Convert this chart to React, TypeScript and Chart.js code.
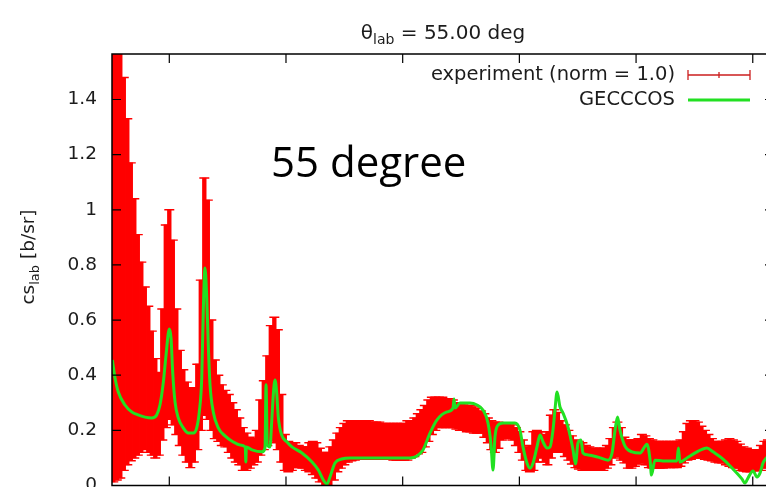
import React, { useEffect, useRef } from "react";
import { Chart, registerables } from "chart.js";

Chart.register(...registerables);
Chart.defaults.font.family = '"DejaVu Sans", sans-serif';

// ---- axis ranges / ticks ----
const X_MIN = 1.509;
const X_MAX = 7.182;
const Y_MIN = 0;
const Y_MAX = 1.565;
const xTickValues = [2, 3, 4, 5, 6, 7];
const yTickStep = 0.2;

// ---- experiment (error bars: lower / upper end) ----
const expEnergy = [
  1.52, 1.55, 1.58, 1.61, 1.64, 1.67, 1.70, 1.73, 1.76, 1.79,
  1.82, 1.85, 1.88, 1.91, 1.94, 1.97, 2.00, 2.03, 2.06, 2.09,
  2.12, 2.15, 2.18, 2.21, 2.24, 2.27, 2.30, 2.33, 2.36, 2.39,
  2.42, 2.45, 2.48, 2.51, 2.54, 2.57, 2.60, 2.63, 2.66, 2.69,
  2.72, 2.75, 2.78, 2.81, 2.84, 2.87, 2.90, 2.93, 2.96, 2.99,
  3.02, 3.05, 3.08, 3.11, 3.14, 3.17, 3.20, 3.23, 3.26, 3.29,
  3.32, 3.35, 3.38, 3.41, 3.44, 3.47, 3.50, 3.53, 3.56, 3.59,
  3.62, 3.65, 3.68, 3.71, 3.74, 3.77, 3.80, 3.83, 3.86, 3.89,
  3.92, 3.95, 3.98, 4.01, 4.04, 4.07, 4.10, 4.13, 4.16, 4.19,
  4.22, 4.25, 4.28, 4.31, 4.34, 4.37, 4.40, 4.43, 4.46, 4.49,
  4.52, 4.55, 4.58, 4.61, 4.64, 4.67, 4.70, 4.73, 4.76, 4.79,
  4.82, 4.85, 4.88, 4.91, 4.94, 4.97, 5.00, 5.03, 5.06, 5.09,
  5.12, 5.15, 5.18, 5.21, 5.24, 5.27, 5.30, 5.33, 5.36, 5.39,
  5.42, 5.45, 5.48, 5.51, 5.54, 5.57, 5.60, 5.63, 5.66, 5.69,
  5.72, 5.75, 5.78, 5.81, 5.84, 5.87, 5.90, 5.93, 5.96, 5.99,
  6.02, 6.05, 6.08, 6.11, 6.14, 6.17, 6.20, 6.23, 6.26, 6.29,
  6.32, 6.35, 6.38, 6.41, 6.44, 6.47, 6.50, 6.53, 6.56, 6.59,
  6.62, 6.65, 6.68, 6.71, 6.74, 6.77, 6.80, 6.83, 6.86, 6.89,
  6.92, 6.95, 6.98, 7.01, 7.04, 7.07, 7.10, 7.13, 7.16,
];

const expHigh = [
  1.70, 1.70, 1.65, 1.48, 1.33, 1.17, 1.04, 0.91, 0.81, 0.72,
  0.65, 0.56, 0.46, 0.41, 0.64, 0.945, 1.00, 0.89, 0.64, 0.49,
  0.42, 0.375, 0.355, 0.355, 0.44, 0.745, 1.115, 1.035, 0.60, 0.455,
  0.40, 0.365, 0.345, 0.33, 0.30, 0.275, 0.245, 0.21, 0.19, 0.175,
  0.17, 0.20, 0.31, 0.38, 0.47, 0.58, 0.61, 0.565, 0.33, 0.185,
  0.16, 0.155, 0.155, 0.145, 0.14, 0.14, 0.155, 0.16, 0.155, 0.135,
  0.12, 0.12, 0.14, 0.165, 0.19, 0.21, 0.225, 0.235, 0.235, 0.235,
  0.235, 0.235, 0.235, 0.235, 0.23, 0.23, 0.23, 0.225, 0.225, 0.225,
  0.225, 0.225, 0.225, 0.225, 0.235, 0.235, 0.245, 0.26, 0.275, 0.29,
  0.31, 0.32, 0.32, 0.32, 0.32, 0.315, 0.315, 0.31, 0.30, 0.30,
  0.295, 0.29, 0.29, 0.285, 0.28, 0.27, 0.26, 0.245, 0.235, 0.23,
  0.23, 0.225, 0.225, 0.225, 0.22, 0.21, 0.195, 0.165, 0.14, 0.145,
  0.195, 0.20, 0.195, 0.185, 0.195, 0.255, 0.275, 0.265, 0.235, 0.22,
  0.20, 0.18, 0.165, 0.16, 0.155, 0.145, 0.14, 0.135, 0.135, 0.135,
  0.135, 0.145, 0.17, 0.21, 0.23, 0.21, 0.175, 0.165, 0.165, 0.165,
  0.17, 0.185, 0.18, 0.17, 0.165, 0.16, 0.16, 0.16, 0.16, 0.16,
  0.16, 0.16, 0.165, 0.195, 0.225, 0.235, 0.235, 0.23, 0.215, 0.20,
  0.185, 0.17, 0.16, 0.16, 0.16, 0.165, 0.17, 0.165, 0.16, 0.15,
  0.14, 0.135, 0.13, 0.13, 0.13, 0.145, 0.16, 0.165, 0.165,
];

const expLow = [
  0.013, 0.02, 0.027, 0.055, 0.075, 0.09, 0.10, 0.11, 0.12, 0.13,
  0.12, 0.11, 0.10, 0.11, 0.165, 0.21, 0.24, 0.22, 0.185, 0.145,
  0.11, 0.085, 0.065, 0.085, 0.13, 0.20, 0.255, 0.24, 0.20, 0.17,
  0.16, 0.145, 0.14, 0.12, 0.10, 0.085, 0.075, 0.055, 0.055, 0.063,
  0.075, 0.085, 0.11, 0.13, 0.145, 0.165, 0.155, 0.13, 0.085, 0.055,
  0.05, 0.055, 0.065, 0.065, 0.063, 0.055, 0.05, 0.04, 0.027, 0.013,
  -0.01, -0.02, -0.01, 0.02, 0.05, 0.063, 0.075, 0.085, 0.09, 0.092,
  0.095, 0.10, 0.095, 0.095, 0.095, 0.095, 0.095, 0.095, 0.095, 0.095,
  0.092, 0.092, 0.092, 0.092, 0.092, 0.10, 0.105, 0.115, 0.12, 0.14,
  0.16, 0.185, 0.20, 0.21, 0.21, 0.21, 0.21, 0.21, 0.205, 0.20,
  0.20, 0.195, 0.195, 0.19, 0.19, 0.19, 0.175, 0.155, 0.13, 0.12,
  0.135, 0.165, 0.175, 0.17, 0.165, 0.145, 0.12, 0.092, 0.055, 0.05,
  0.055, 0.085, 0.10, 0.085, 0.075, 0.10, 0.12, 0.12, 0.12, 0.105,
  0.092, 0.078, 0.065, 0.06, 0.055, 0.055, 0.055, 0.055, 0.055, 0.055,
  0.055, 0.063, 0.075, 0.10, 0.105, 0.092, 0.082, 0.063, 0.063, 0.07,
  0.078, 0.082, 0.075, 0.065, 0.063, 0.063, 0.063, 0.063, 0.065, 0.065,
  0.065, 0.065, 0.07, 0.082, 0.092, 0.095, 0.10, 0.10, 0.10, 0.095,
  0.092, 0.09, 0.085, 0.082, 0.082, 0.075, 0.07, 0.065, 0.063, 0.055,
  0.052, 0.05, 0.05, 0.052, 0.055, 0.055, 0.063, 0.075, 0.075,
];

// ---- GECCCOS calculation ----
const gecX = [
  1.512, 1.535, 1.563, 1.620, 1.678, 1.732, 1.792, 1.849, 1.892, 1.920,
  1.949, 1.972, 2.000, 2.015, 2.029, 2.049, 2.077, 2.120, 2.163, 2.206,
  2.235, 2.257, 2.278, 2.291, 2.306, 2.320, 2.334, 2.349, 2.377, 2.420,
  2.477, 2.548, 2.606, 2.651, 2.656, 2.660, 2.709, 2.794, 2.820, 2.829,
  2.840, 2.863, 2.877, 2.891, 2.906, 2.920, 2.934, 2.963, 3.009, 3.051,
  3.137, 3.223, 3.277, 3.320, 3.351, 3.377, 3.420, 3.477, 3.548, 3.634,
  3.917, 4.063, 4.123, 4.174, 4.234, 4.294, 4.380, 4.431, 4.440, 4.448,
  4.491, 4.577, 4.637, 4.688, 4.731, 4.757, 4.774, 4.791, 4.817, 4.860,
  4.962, 5.005, 5.031, 5.065, 5.091, 5.117, 5.151, 5.177, 5.203, 5.237,
  5.263, 5.288, 5.305, 5.323, 5.348, 5.374, 5.417, 5.460, 5.481, 5.502,
  5.528, 5.545, 5.588, 5.674, 5.760, 5.794, 5.820, 5.841, 5.862, 5.905,
  5.965, 6.034, 6.094, 6.120, 6.132, 6.162, 6.230, 6.350, 6.363, 6.376,
  6.436, 6.522, 6.607, 6.659, 6.745, 6.830, 6.907, 6.933, 6.959, 7.002,
  7.036, 7.062, 7.088, 7.122, 7.182,
];

const gecY = [
  0.455, 0.390, 0.339, 0.292, 0.267, 0.256, 0.248, 0.245, 0.256, 0.292,
  0.375, 0.473, 0.568, 0.535, 0.412, 0.303, 0.245, 0.209, 0.190, 0.190,
  0.209, 0.267, 0.390, 0.629, 0.789, 0.691, 0.510, 0.365, 0.267, 0.209,
  0.180, 0.158, 0.147, 0.140, 0.085, 0.140, 0.129, 0.122, 0.136, 0.365,
  0.147, 0.140, 0.227, 0.328, 0.383, 0.339, 0.248, 0.183, 0.158, 0.140,
  0.118, 0.085, 0.056, 0.020, 0.005, 0.031, 0.082, 0.096, 0.100, 0.100,
  0.100, 0.100, 0.107, 0.129, 0.190, 0.238, 0.267, 0.281, 0.314, 0.281,
  0.299, 0.299, 0.292, 0.274, 0.227, 0.147, 0.056, 0.176, 0.219, 0.227,
  0.227, 0.201, 0.140, 0.082, 0.063, 0.082, 0.140, 0.183, 0.158, 0.136,
  0.140, 0.201, 0.274, 0.339, 0.285, 0.263, 0.212, 0.129, 0.078, 0.154,
  0.165, 0.118, 0.111, 0.103, 0.092, 0.118, 0.201, 0.248, 0.201, 0.143,
  0.122, 0.118, 0.150, 0.092, 0.038, 0.092, 0.089, 0.089, 0.136, 0.085,
  0.100, 0.122, 0.136, 0.122, 0.096, 0.060, 0.024, 0.009, 0.027, 0.053,
  0.031, 0.045, 0.082, 0.103, 0.129,
];

// ---- texts ----
const titleParts = [
  { t: "θ", size: 20, dy: 0 },
  { t: "lab", size: 14, dy: 5 },
  { t: " = 55.00 deg", size: 20, dy: 0 },
];
const yTitleParts = [
  { t: "cs", size: 18.5, dy: 0 },
  { t: "lab", size: 13, dy: 5 },
  { t: " [b/sr]", size: 18.5, dy: 0 },
];
const legendExp = "experiment (norm = 1.0)";
const legendGec = "GECCCOS";
const annotation = "55 degree";

const RED = "#ff0000";
const GREEN = "#22e022";
const TEXT = "#1c1c1c";

type Part = { t: string; size: number; dy: number };

function partsWidth(ctx: CanvasRenderingContext2D, parts: Part[]) {
  let w = 0;
  for (const p of parts) {
    ctx.font = `${p.size}px "DejaVu Sans"`;
    w += ctx.measureText(p.t).width;
  }
  return w;
}

function drawParts(ctx: CanvasRenderingContext2D, parts: Part[], x: number, y: number) {
  let cx = x;
  ctx.textAlign = "left";
  ctx.textBaseline = "alphabetic";
  for (const p of parts) {
    ctx.font = `${p.size}px "DejaVu Sans"`;
    ctx.fillText(p.t, cx, y + p.dy);
    cx += ctx.measureText(p.t).width;
  }
}

const overlay = {
  id: "overlay",
  afterDraw(chart: any) {
    const { ctx, chartArea: a, scales } = chart;
    const xs = scales.x;
    const ys = scales.y;
    ctx.save();

    // frame
    ctx.strokeStyle = "#000";
    ctx.lineWidth = 1.5;
    ctx.strokeRect(a.left, a.top, a.right - a.left, a.bottom - a.top);

    // inward ticks (all four sides)
    const TL = 9;
    ctx.lineWidth = 1.2;
    ctx.beginPath();
    for (const v of xTickValues) {
      const p = xs.getPixelForValue(v);
      ctx.moveTo(p, a.bottom);
      ctx.lineTo(p, a.bottom - TL);
      ctx.moveTo(p, a.top);
      ctx.lineTo(p, a.top + TL);
    }
    for (const t of ys.ticks) {
      const p = ys.getPixelForValue(t.value);
      ctx.moveTo(a.left, p);
      ctx.lineTo(a.left + TL, p);
      ctx.moveTo(a.right, p);
      ctx.lineTo(a.right - TL, p);
    }
    ctx.stroke();

    ctx.fillStyle = TEXT;

    // title
    const tw = partsWidth(ctx, titleParts);
    drawParts(ctx, titleParts, (a.left + a.right) / 2 - tw / 2, 39);

    // y-axis title (rotated)
    ctx.save();
    const yw = partsWidth(ctx, yTitleParts);
    ctx.translate(34, 257);
    ctx.rotate(-Math.PI / 2);
    drawParts(ctx, yTitleParts, -yw / 2, 0);
    ctx.restore();

    // legend
    ctx.font = '19.5px "DejaVu Sans"';
    ctx.textAlign = "right";
    ctx.textBaseline = "middle";
    ctx.fillStyle = TEXT;
    const lx = 675;
    const s0 = 688;
    const s1 = 750;
    ctx.fillText(legendExp, lx, 75);
    ctx.fillText(legendGec, lx, 100);
    ctx.strokeStyle = "#cc1f1f";
    ctx.lineWidth = 1.3;
    ctx.beginPath();
    ctx.moveTo(s0, 75);
    ctx.lineTo(s1, 75);
    ctx.moveTo(s0, 70);
    ctx.lineTo(s0, 80);
    ctx.moveTo(s1, 70);
    ctx.lineTo(s1, 80);
    ctx.moveTo((s0 + s1) / 2, 72);
    ctx.lineTo((s0 + s1) / 2, 78);
    ctx.stroke();
    ctx.strokeStyle = GREEN;
    ctx.lineWidth = 3;
    ctx.beginPath();
    ctx.moveTo(s0, 100);
    ctx.lineTo(s1, 100);
    ctx.stroke();

    // annotation
    ctx.fillStyle = "#000";
    ctx.font = '42px "Open Sans"';
    ctx.textAlign = "left";
    ctx.textBaseline = "alphabetic";
    ctx.fillText(annotation, 271, 177);

    ctx.restore();
  },
};

export default function App() {
  const ref = useRef<HTMLCanvasElement>(null);

  useEffect(() => {
    const canvas = ref.current;
    if (!canvas) return;
    const chart = new Chart(canvas, {
      type: "bar",
      data: {
        datasets: [
          {
            type: "line",
            label: legendGec,
            data: gecX.map((x, i) => ({ x, y: gecY[i] })),
            borderColor: GREEN,
            borderWidth: 3,
            pointRadius: 0,
            cubicInterpolationMode: "monotone",
            order: 0,
            clip: 0,
          } as any,
          {
            type: "scatter",
            label: "upper caps",
            data: expEnergy.map((x, i) => ({ x, y: expHigh[i] })),
            pointStyle: "line",
            pointRadius: 5,
            pointBorderColor: RED,
            pointBorderWidth: 1.4,
            borderColor: RED,
            order: 1,
            clip: 0,
          } as any,
          {
            type: "scatter",
            label: "lower caps",
            data: expEnergy.map((x, i) => ({ x, y: expLow[i] })),
            pointStyle: "line",
            pointRadius: 5,
            pointBorderColor: RED,
            pointBorderWidth: 1.4,
            borderColor: RED,
            order: 1,
            clip: 0,
          } as any,
          {
            type: "bar",
            label: legendExp,
            data: expEnergy.map((x, i) => ({ x, y: [expLow[i], expHigh[i]] })),
            backgroundColor: RED,
            borderWidth: 0,
            barThickness: 3.7,
            order: 2,
            clip: 0,
          } as any,
        ],
      },
      options: {
        animation: false,
        responsive: false,
        events: [],
        layout: { padding: { top: 54, right: 26, left: 0, bottom: 0 } },
        plugins: {
          legend: { display: false },
          tooltip: { enabled: false },
          title: { display: false },
        },
        scales: {
          x: {
            type: "linear",
            min: X_MIN,
            max: X_MAX,
            offset: false,
            grid: { display: false },
            border: { display: false },
            ticks: { display: false, stepSize: 1 },
            afterFit: (s: any) => {
              s.height = 34.5;
            },
          },
          y: {
            type: "linear",
            min: Y_MIN,
            max: Y_MAX,
            grid: { display: false, drawTicks: false },
            border: { display: false },
            ticks: {
              stepSize: yTickStep,
              includeBounds: false,
              padding: 15,
              color: TEXT,
              font: { size: 18.5, family: '"DejaVu Sans"' },
              callback: (v: any) => String(Math.round(Number(v) * 10) / 10),
            },
            afterFit: (s: any) => {
              s.width = 112;
            },
          },
        },
      } as any,
      plugins: [overlay],
    });
    return () => chart.destroy();
  }, []);

  return (
    <div
      style={{
        position: "fixed",
        left: 0,
        top: 0,
        width: 766,
        height: 487,
        overflow: "hidden",
        background: "#fff",
      }}
    >
      <canvas
        ref={ref}
        width={800}
        height={520}
        style={{ display: "block", width: 800, height: 520 }}
      />
    </div>
  );
}
